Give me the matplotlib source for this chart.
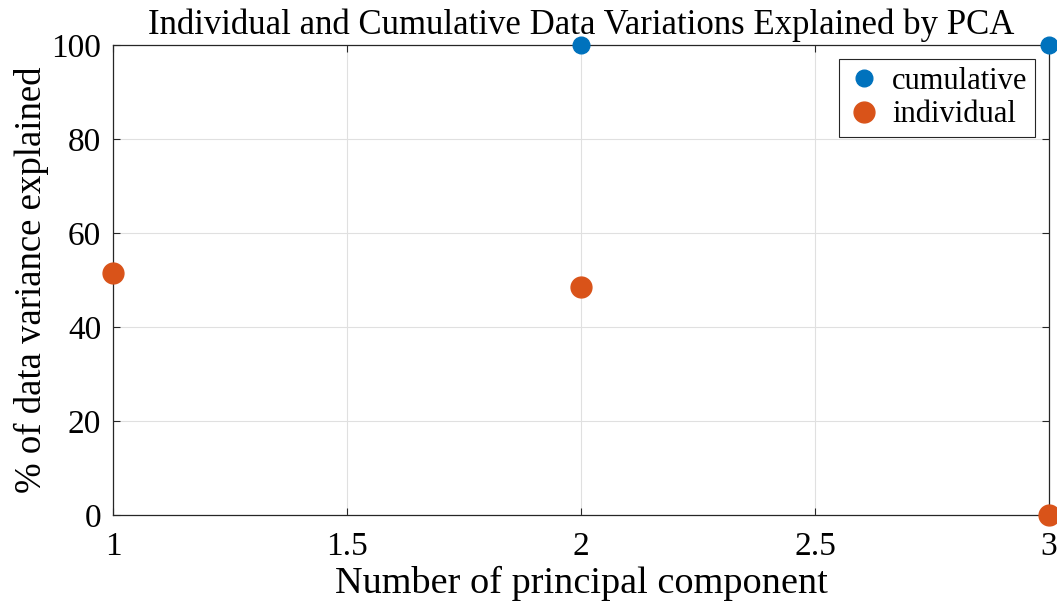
import matplotlib
matplotlib.use("Agg")
import matplotlib.pyplot as plt

components = [1, 2, 3]
cumulative = [51.55, 100.0, 100.0]
individual = [51.55, 48.45, 0.0]

plt.rcParams['font.family'] = ['Liberation Serif', 'DejaVu Serif']

W, H = 1057, 608
fig = plt.figure(figsize=(W / 100, H / 100), dpi=100)
ax = fig.add_axes([113 / W, (H - 515) / H, (1049 - 113) / W, (515 - 45) / H])

ax.plot(components, cumulative, 'o', color='#0072BD', markersize=12,
        label='cumulative', clip_on=False, zorder=3)
ax.plot(components, individual, 'o', color='#D95319', markersize=15,
        label='individual', clip_on=False, zorder=4)

ax.set_xlim(1, 3)
ax.set_ylim(0, 100)
ax.set_xticks([1, 1.5, 2, 2.5, 3])
ax.set_xticklabels(['1', '1.5', '2', '2.5', '3'])
ax.set_yticks([0, 20, 40, 60, 80, 100])
ax.grid(True, color='#e0e0e0', linewidth=0.8)
ax.set_axisbelow(True)
ax.tick_params(direction='in', labelsize=24, length=5, width=0.8,
               top=True, right=True, colors='#262626', labelcolor='black')
ax.tick_params(axis='x', pad=12)
ax.tick_params(axis='y', pad=8.5)
for s in ax.spines.values():
    s.set_color('#262626')
    s.set_linewidth(0.9)

ax.set_xlabel('Number of principal component', fontsize=27.5, labelpad=3)
ax.set_ylabel('% of data variance explained', fontsize=26.5, labelpad=2)
ax.set_title('Individual and Cumulative Data Variations Explained by PCA',
             fontsize=25, pad=8)

leg = ax.legend(loc='upper right', fontsize=22, fancybox=False,
                edgecolor='#262626', framealpha=1, borderpad=0.25,
                handletextpad=0.33, labelspacing=0.15, handlelength=1.15,
                borderaxespad=0, bbox_to_anchor=(0.985, 0.970))
leg.get_frame().set_linewidth(0.8)

fig.savefig('out.png', dpi=100)
